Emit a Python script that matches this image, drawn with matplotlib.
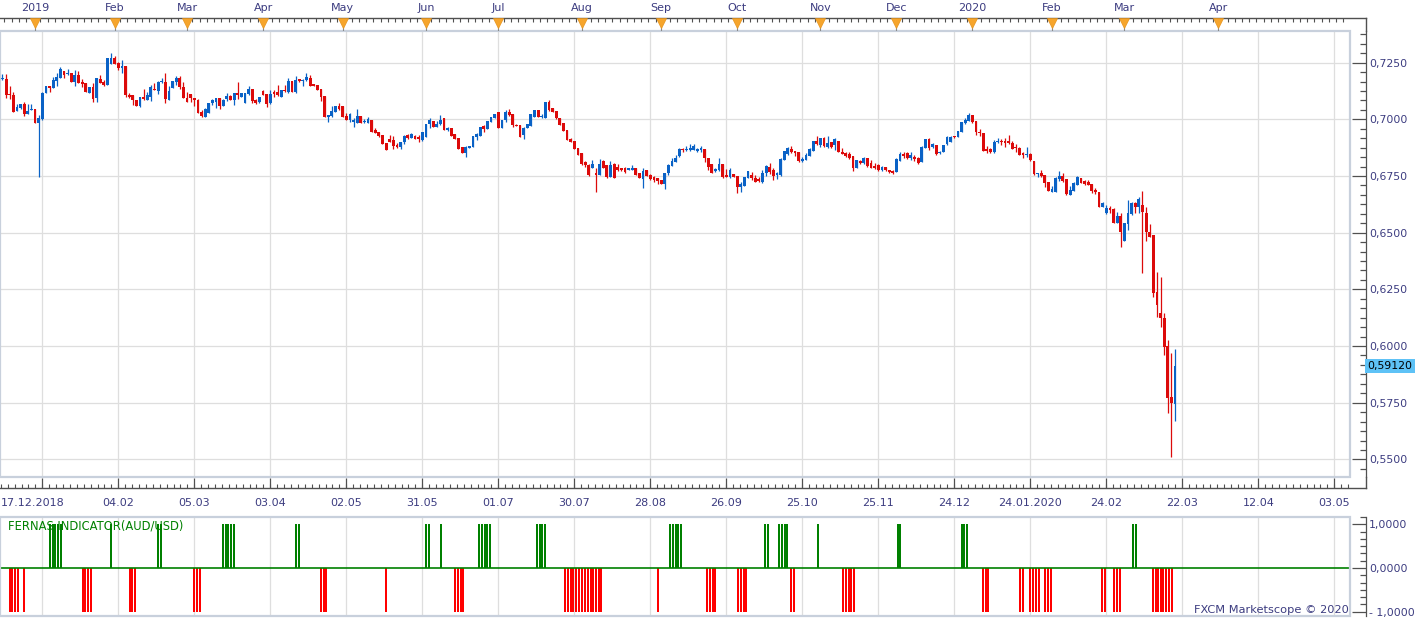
import matplotlib
matplotlib.use("Agg")
import numpy as np
import matplotlib.pyplot as plt
from matplotlib.patches import Rectangle
from matplotlib.ticker import MultipleLocator, FixedLocator, FuncFormatter
from matplotlib.transforms import blended_transform_factory

# ---------------- data ----------------
# AUD/USD daily candles, one per trading day, oldest first
opens = [
    .7177, .7178, .7110, .7108, .7038, .7052, .7066, .7024, .7043, .7046,
    .6985, .7002, .7115, .7147, .7140, .7171, .7184, .7213, .7200, .7205,
    .7166, .7196, .7166, .7159, .7118, .7143, .7093, .7178, .7166, .7152,
    .7246, .7272, .7247, .7225, .7237, .7108, .7105, .7085, .7059, .7100,
    .7085, .7100, .7134, .7125, .7163, .7165, .7085, .7137, .7166, .7181,
    .7141, .7093, .7110, .7096, .7085, .7032, .7012, .7029, .7070, .7076,
    .7095, .7059, .7088, .7104, .7085, .7118, .7100, .7073, .7112, .7134,
    .7085, .7075, .7126, .7112, .7070, .7119, .7122, .7100, .7129, .7122,
    .7170, .7122, .7176, .7170, .7173, .7184, .7154, .7151, .7134, .7104,
    .7012, .7015, .7034, .7059, .7059, .7015, .6997, .6989, .6982, .7015,
    .6989, .6985, .6995, .6953, .6945, .6931, .6894, .6913, .6909, .6887,
    .6880, .6899, .6931, .6916, .6928, .6924, .6909, .6924, .6978, .6993,
    .6966, .6978, .7007, .6953, .6963, .6934, .6918, .6877, .6853, .6875,
    .6878, .6924, .6926, .6969, .6957, .6987, .7004, .7034, .6960, .6997,
    .7034, .7023, .6975, .6975, .6931, .6960, .6972, .7012, .7041, .7012,
    .7007, .7078, .7051, .7037, .7007, .6982, .6953, .6913, .6904, .6875,
    .6850, .6810, .6799, .6784, .6762, .6755, .6816, .6799, .6747, .6802,
    .6791, .6784, .6787, .6777, .6777, .6784, .6762, .6737, .6777, .6755,
    .6747, .6740, .6732, .6713, .6762, .6796, .6813, .6838, .6868, .6863,
    .6863, .6865, .6860, .6865, .6869, .6828, .6802, .6772, .6777, .6802,
    .6755, .6747, .6757, .6752, .6703, .6707, .6740, .6755, .6740, .6737,
    .6725, .6762, .6791, .6777, .6755, .6755, .6820, .6846, .6869, .6860,
    .6854, .6818, .6821, .6840, .6860, .6906, .6887, .6916, .6879, .6898,
    .6887, .6904, .6857, .6853, .6846, .6840, .6787, .6816, .6806, .6831,
    .6806, .6794, .6799, .6777, .6788, .6777, .6772, .6769, .6816, .6846,
    .6850, .6828, .6835, .6828, .6810, .6872, .6913, .6879, .6887, .6850,
    .6854, .6890, .6901, .6923, .6920, .6945, .6985, .6994, .7019, .6993,
    .6945, .6938, .6868, .6869, .6857, .6900, .6906, .6906, .6906, .6897,
    .6879, .6872, .6850, .6841, .6847, .6816, .6757, .6765, .6754, .6725,
    .6681, .6681, .6735, .6750, .6735, .6666, .6685, .6710, .6740, .6728,
    .6725, .6715, .6688, .6681, .6612, .6585, .6607, .6603, .6544, .6574,
    .6465, .6537, .6581, .6632, .6615, .6622, .6588, .6505, .6490, .6240,
    .6144, .6122, .6000, .5777, .5745,
]
highs = [
    .7199, .7199, .7149, .7119, .7066, .7069, .7077, .7068, .7066, .7046,
    .7019, .7119, .7147, .7147, .7188, .7203, .7232, .7213, .7222, .7205,
    .7216, .7213, .7177, .7159, .7143, .7162, .7182, .7196, .7175, .7269,
    .7293, .7277, .7254, .7263, .7237, .7115, .7105, .7085, .7100, .7134,
    .7122, .7152, .7162, .7169, .7184, .7203, .7149, .7169, .7191, .7193,
    .7163, .7119, .7110, .7096, .7090, .7041, .7049, .7073, .7088, .7095,
    .7095, .7088, .7115, .7107, .7118, .7164, .7116, .7118, .7147, .7134,
    .7088, .7100, .7129, .7112, .7129, .7129, .7151, .7129, .7151, .7181,
    .7170, .7192, .7176, .7178, .7206, .7195, .7154, .7151, .7134, .7104,
    .7019, .7059, .7059, .7070, .7059, .7026, .7026, .7004, .7045, .7015,
    .7000, .7012, .6995, .6960, .6945, .6931, .6894, .6931, .6928, .6894,
    .6899, .6931, .6934, .6938, .6931, .6931, .6946, .6979, .7004, .6993,
    .6994, .7019, .7007, .6968, .6963, .6934, .6918, .6877, .6882, .6884,
    .6928, .6938, .6968, .6975, .6993, .7012, .7023, .7034, .6997, .7041,
    .7045, .7023, .6978, .6975, .6968, .6978, .7022, .7041, .7041, .7022,
    .7078, .7084, .7051, .7037, .7007, .6982, .6953, .6916, .6904, .6875,
    .6850, .6816, .6802, .6820, .6784, .6823, .6820, .6799, .6816, .6806,
    .6802, .6787, .6791, .6784, .6799, .6784, .6762, .6784, .6777, .6760,
    .6752, .6743, .6732, .6762, .6802, .6831, .6843, .6872, .6872, .6884,
    .6891, .6891, .6872, .6884, .6869, .6831, .6802, .6784, .6828, .6803,
    .6781, .6784, .6757, .6752, .6725, .6747, .6772, .6769, .6755, .6747,
    .6777, .6799, .6806, .6784, .6766, .6828, .6860, .6879, .6884, .6860,
    .6854, .6835, .6850, .6872, .6906, .6926, .6919, .6920, .6926, .6898,
    .6916, .6904, .6872, .6857, .6857, .6840, .6821, .6821, .6835, .6831,
    .6821, .6806, .6802, .6796, .6791, .6777, .6777, .6828, .6854, .6854,
    .6854, .6854, .6843, .6835, .6884, .6913, .6916, .6894, .6887, .6860,
    .6887, .6928, .6928, .6928, .6948, .6987, .7004, .7028, .7019, .6993,
    .6956, .6938, .6882, .6872, .6909, .6916, .6912, .6916, .6931, .6906,
    .6891, .6876, .6857, .6876, .6850, .6816, .6762, .6777, .6754, .6725,
    .6706, .6744, .6773, .6765, .6735, .6707, .6725, .6751, .6740, .6732,
    .6732, .6715, .6696, .6681, .6637, .6622, .6618, .6607, .6593, .6585,
    .6541, .6644, .6637, .6637, .6659, .6685, .6612, .6538, .6490, .6328,
    .6303, .6147, .6027, .5968, .5986,
]
lows = [
    .7172, .7093, .7090, .7030, .7038, .7047, .7016, .7024, .7040, .6985,
    .6747, .6997, .7115, .7122, .7140, .7149, .7184, .7181, .7196, .7166,
    .7149, .7159, .7144, .7119, .7118, .7078, .7078, .7162, .7146, .7152,
    .7246, .7244, .7218, .7203, .7100, .7093, .7063, .7060, .7056, .7083,
    .7083, .7081, .7127, .7110, .7159, .7071, .7085, .7137, .7152, .7134,
    .7093, .7075, .7078, .7059, .7027, .7009, .7009, .7026, .7062, .7052,
    .7044, .7059, .7082, .7085, .7062, .7088, .7097, .7070, .7109, .7073,
    .7066, .7073, .7107, .7056, .7067, .7100, .7104, .7097, .7122, .7118,
    .7121, .7118, .7164, .7147, .7170, .7147, .7148, .7129, .7082, .7009,
    .6989, .7012, .7034, .7041, .7012, .6997, .6989, .6967, .6982, .6985,
    .6982, .6982, .6945, .6938, .6920, .6890, .6865, .6898, .6869, .6875,
    .6869, .6890, .6913, .6916, .6913, .6901, .6904, .6924, .6960, .6968,
    .6966, .6975, .6953, .6950, .6928, .6913, .6868, .6853, .6835, .6875,
    .6878, .6909, .6926, .6946, .6957, .6987, .7004, .6960, .6960, .6990,
    .7016, .6968, .6969, .6924, .6913, .6960, .6972, .7012, .7012, .7005,
    .7007, .7037, .7034, .7000, .6975, .6949, .6909, .6899, .6869, .6843,
    .6799, .6791, .6752, .6784, .6681, .6755, .6784, .6743, .6747, .6740,
    .6772, .6772, .6762, .6777, .6777, .6755, .6740, .6696, .6752, .6732,
    .6722, .6713, .6713, .6691, .6755, .6793, .6810, .6835, .6855, .6860,
    .6862, .6863, .6857, .6857, .6813, .6777, .6762, .6769, .6772, .6740,
    .6744, .6740, .6746, .6677, .6681, .6707, .6740, .6732, .6722, .6722,
    .6718, .6752, .6757, .6732, .6737, .6752, .6820, .6843, .6850, .6838,
    .6813, .6813, .6821, .6838, .6860, .6887, .6879, .6879, .6875, .6872,
    .6865, .6854, .6846, .6835, .6825, .6774, .6784, .6803, .6802, .6791,
    .6784, .6781, .6774, .6774, .6774, .6762, .6757, .6769, .6816, .6831,
    .6825, .6821, .6816, .6803, .6810, .6872, .6865, .6872, .6843, .6846,
    .6854, .6887, .6898, .6916, .6920, .6945, .6981, .6993, .6982, .6931,
    .6926, .6862, .6850, .6850, .6853, .6894, .6887, .6879, .6891, .6868,
    .6857, .6843, .6828, .6832, .6818, .6754, .6744, .6744, .6703, .6684,
    .6681, .6681, .6729, .6725, .6666, .6666, .6685, .6710, .6718, .6710,
    .6710, .6674, .6671, .6615, .6612, .6582, .6588, .6544, .6541, .6438,
    .6465, .6512, .6578, .6588, .6588, .6321, .6465, .6479, .6218, .6130,
    .6086, .5961, .5703, .5512, .5671,
]
closes = [
    .7181, .7105, .7105, .7030, .7055, .7066, .7024, .7037, .7046, .6985,
    .7005, .7115, .7147, .7140, .7174, .7187, .7222, .7196, .7205, .7166,
    .7196, .7159, .7157, .7119, .7143, .7090, .7182, .7162, .7153, .7269,
    .7272, .7246, .7225, .7237, .7105, .7100, .7083, .7060, .7097, .7088,
    .7105, .7143, .7127, .7166, .7166, .7088, .7125, .7169, .7184, .7141,
    .7093, .7075, .7096, .7085, .7027, .7015, .7045, .7073, .7085, .7095,
    .7059, .7085, .7104, .7085, .7118, .7109, .7116, .7118, .7134, .7079,
    .7070, .7100, .7109, .7067, .7112, .7110, .7109, .7129, .7125, .7170,
    .7121, .7173, .7170, .7173, .7188, .7147, .7148, .7129, .7100, .7009,
    .7019, .7038, .7059, .7045, .7012, .6997, .7023, .6997, .7015, .6985,
    .6994, .7001, .6945, .6941, .6926, .6890, .6865, .6901, .6884, .6878,
    .6899, .6928, .6916, .6934, .6913, .6913, .6943, .6979, .6997, .6968,
    .6978, .6997, .6953, .6963, .6928, .6913, .6868, .6853, .6880, .6884,
    .6928, .6934, .6968, .6957, .6993, .7012, .7023, .6960, .6997, .7034,
    .7019, .6975, .6972, .6924, .6963, .6978, .7022, .7041, .7012, .7016,
    .7078, .7041, .7034, .7004, .6975, .6949, .6909, .6901, .6869, .6843,
    .6801, .6799, .6755, .6802, .6755, .6802, .6787, .6747, .6799, .6743,
    .6775, .6775, .6766, .6784, .6787, .6755, .6740, .6772, .6752, .6735,
    .6732, .6728, .6716, .6762, .6799, .6816, .6831, .6868, .6863, .6869,
    .6872, .6884, .6868, .6872, .6828, .6791, .6762, .6779, .6802, .6747,
    .6747, .6777, .6746, .6703, .6713, .6747, .6772, .6740, .6725, .6728,
    .6762, .6794, .6769, .6752, .6762, .6825, .6860, .6875, .6854, .6850,
    .6816, .6824, .6843, .6869, .6906, .6890, .6916, .6884, .6894, .6879,
    .6912, .6854, .6847, .6840, .6828, .6787, .6821, .6806, .6831, .6796,
    .6787, .6784, .6777, .6791, .6777, .6766, .6762, .6824, .6847, .6840,
    .6828, .6843, .6825, .6806, .6879, .6913, .6872, .6890, .6846, .6857,
    .6887, .6923, .6923, .6920, .6948, .6987, .6998, .7019, .6987, .6945,
    .6938, .6862, .6862, .6857, .6901, .6906, .6901, .6897, .6894, .6869,
    .6872, .6843, .6843, .6847, .6821, .6759, .6762, .6751, .6721, .6684,
    .6693, .6740, .6750, .6728, .6671, .6688, .6718, .6744, .6718, .6713,
    .6710, .6684, .6681, .6615, .6632, .6607, .6600, .6544, .6574, .6505,
    .6541, .6585, .6629, .6615, .6649, .6593, .6505, .6482, .6233, .6181,
    .6122, .5997, .5769, .5747, .5912,
]
last_price = 0.59120

# month markers on the top scale (position in trading days from first candle)
month_names = ["2019", "Feb", "Mar", "Apr", "May", "Jun", "Jul", "Aug",
               "Sep", "Oct", "Nov", "Dec", "2020", "Feb", "Mar", "Apr"]
month_pos = [9, 31, 51, 72, 94, 117, 137, 160, 182, 203, 226, 247, 268, 290, 310, 336]

# date scale at the bottom of the price panel
first_date = "17.12.2018"
date_labels = ["04.02", "05.03", "03.04", "02.05", "31.05", "01.07", "30.07", "28.08",
               "26.09", "25.10", "25.11", "24.12", "24.01.2020", "24.02", "22.03",
               "12.04", "03.05"]
date_pos = [32, 53, 74, 95, 116, 137, 158, 179, 200, 221, 242, 263, 284, 305, 326, 347, 368]
grid_pos = [11] + date_pos

price_ticks = [0.550, 0.575, 0.600, 0.625, 0.650, 0.675, 0.700, 0.725]

# FERNAS indicator signals (+1 buy / -1 sell), positions on the same time scale
buy_pos = [13.2, 13.9, 14.6, 15.4, 16.1, 30.1, 43.0, 43.9,
           60.9, 61.7, 62.4, 63.1, 64.0, 81.2, 81.9, 117.1, 117.9, 121.2,
           131.7, 132.4, 133.2, 133.9, 134.6, 147.7, 148.4, 149.2, 150.0,
           184.5, 185.2, 186.0, 186.7, 187.5, 210.7, 211.4,
           214.6, 215.4, 216.1, 216.9, 225.3, 247.4, 248.1,
           265.1, 265.8, 266.6, 312.4, 313.1]
sell_pos = [2.0, 2.7, 3.5, 4.2, 6.0, 22.2, 22.9, 23.6, 24.4, 35.1, 35.8, 36.6,
            53.0, 53.7, 54.5, 88.0, 88.8, 89.5, 106.0, 125.1, 125.9, 126.6, 127.3,
            155.5, 156.2, 157.0, 157.7, 158.5, 159.2, 160.0,
            161.0, 161.7, 162.5, 163.2, 164.0, 164.7, 165.5,
            181.0, 194.7, 195.4, 196.2, 196.9, 203.3, 204.0, 204.8, 205.5,
            217.9, 218.6, 232.3, 233.1, 233.8, 234.5, 235.3,
            270.9, 271.7, 272.4, 281.2, 282.0, 283.9, 284.7, 285.5, 286.4,
            288.1, 288.9, 289.7, 303.8, 304.6, 307.1, 307.9, 308.8,
            317.9, 318.6, 319.4, 320.1, 320.8, 321.6, 322.3, 323.1]

# ---------------- layout (pixels of the 1423x619 canvas) ----------------
W, H = 1423, 619
PLOT_R = 1350.0       # right edge of the plotting panes
AXIS_X = 1365.7       # where the value scale line sits
XLIM = (-0.69, 372.34)
TXT = "#3c3c80"
AX_COL = "#505050"
GRID = "#dedede"
FRAME = "#c8d0dc"


def rect(x0, y0, x1, y1):
    return [x0 / W, 1 - y1 / H, (x1 - x0) / W, (y1 - y0) / H]


fig = plt.figure(figsize=(W / 100, H / 100), dpi=100)
fig.patch.set_facecolor("white")

# ---------------- price pane ----------------
ax = fig.add_axes(rect(0, 31, PLOT_R, 477))
ax.set_xlim(*XLIM)
ax.set_ylim(0.54225, 0.73894)

for g in grid_pos:
    ax.axvline(g, color=GRID, lw=0.9, zorder=0)
for p in price_ticks:
    ax.axhline(p, color=GRID, lw=0.9, zorder=0)

o = np.array(opens)
h = np.array(highs)
l = np.array(lows)
c = np.array(closes)
idx = np.arange(len(c))
up = c >= o
cols = np.where(up, "#0a62c6", "#dc0a0a")
ax.vlines(idx, l, h, colors=cols, lw=0.9, zorder=2)
body = np.maximum(np.abs(c - o), 0.00045)
ax.bar(idx, body, bottom=np.minimum(o, c), width=0.78, color=cols, lw=0, zorder=3)

ax.add_patch(Rectangle((0, 0), 1, 1, transform=ax.transAxes, fill=False,
                       ec=FRAME, lw=1.6, clip_on=False, zorder=5))
for s in ["top", "left", "bottom"]:
    ax.spines[s].set_visible(False)
ax.spines["right"].set_position(("outward", (AXIS_X - PLOT_R) * 0.72))
ax.spines["right"].set_color(AX_COL)
ax.spines["right"].set_linewidth(0.9)
ax.yaxis.tick_right()
ax.yaxis.set_major_locator(FixedLocator(price_ticks))
ax.yaxis.set_minor_locator(MultipleLocator(0.025 / 6))
ax.yaxis.set_major_formatter(FuncFormatter(lambda v, p: f"{v:.4f}".replace(".", ",")))
ax.tick_params(axis="y", which="major", direction="in", length=10, width=0.9,
               color=AX_COL, labelsize=7.8, labelcolor=TXT, pad=2.5)
ax.tick_params(axis="y", which="minor", direction="in", length=4, width=0.9, color=AX_COL)
ax.tick_params(axis="x", which="both", bottom=False, labelbottom=False)

# current price tag
bt = blended_transform_factory(ax.transAxes, ax.transData)
ax.text((AXIS_X + 1.5) / PLOT_R, last_price, f"{last_price:.5f}".replace(".", ","),
        transform=bt, ha="left", va="center", fontsize=7.8, color="black", zorder=6,
        bbox=dict(boxstyle="square,pad=0.22", fc="#5ec2f6", ec="none"))

# ---------------- top month scale ----------------
axt = fig.add_axes(rect(0, 0, PLOT_R, 31))
axt.set_xlim(*XLIM)
axt.set_ylim(31, 0)
axt.axis("off")
tt = blended_transform_factory(axt.transAxes, axt.transData)
axt.plot([0, AXIS_X / PLOT_R], [18.3, 18.3], transform=tt, color=AX_COL, lw=1, clip_on=False)
axt.plot([AXIS_X / PLOT_R] * 2, [18.3, 31], transform=tt, color=AX_COL, lw=1, clip_on=False)
axt.vlines(np.arange(0.5, 372, 2), 18.3, 22.3, color=AX_COL, lw=0.8)
axt.vlines(month_pos, 26, 31, color="#8a8a8a", lw=0.8)
axt.plot(month_pos, [23.0] * len(month_pos), "v", ms=7.5, color="#f6a52c",
         mec="#e8941b", mew=0.5, clip_on=False)
for p, name in zip(month_pos, month_names):
    axt.text(p, 8, name, ha="center", va="center", fontsize=8, color=TXT)

# ---------------- date scale ----------------
axd = fig.add_axes(rect(0, 477, PLOT_R, 517))
axd.set_xlim(*XLIM)
axd.set_ylim(517, 477)
axd.axis("off")
dt = blended_transform_factory(axd.transAxes, axd.transData)
axd.plot([0, AXIS_X / PLOT_R], [487.5, 487.5], transform=dt, color=AX_COL, lw=1, clip_on=False)
axd.plot([AXIS_X / PLOT_R] * 2, [477, 487.5], transform=dt, color=AX_COL, lw=1, clip_on=False)
axd.vlines(grid_pos, 477.5, 487.5, color=AX_COL, lw=0.9)
axd.vlines(np.arange(grid_pos[0] - 21, 372, 21 / 11), 483.5, 487.5, color=AX_COL, lw=0.8)
axd.text(1 / PLOT_R, 503, first_date, transform=dt, ha="left", va="center", fontsize=8, color=TXT)
for p, lab in zip(date_pos, date_labels):
    axd.text(p, 503, lab, ha="center", va="center", fontsize=8, color=TXT)

# ---------------- indicator pane ----------------
axi = fig.add_axes(rect(0, 517, PLOT_R, 616))
axi.set_xlim(*XLIM)
axi.set_ylim(-1.098, 1.167)
for g in grid_pos:
    axi.axvline(g, color=GRID, lw=0.9, zorder=0)
axi.bar(buy_pos, [1] * len(buy_pos), width=0.55, color="#008000", lw=0, zorder=2)
axi.bar(sell_pos, [-1] * len(sell_pos), width=0.55, color="#ff0000", lw=0, zorder=2)
axi.axhline(0, color="#008000", lw=1.2, zorder=3)
axi.add_patch(Rectangle((0, 0), 1, 1, transform=axi.transAxes, fill=False,
                        ec=FRAME, lw=1.6, clip_on=False, zorder=5))
for s in ["top", "left", "bottom"]:
    axi.spines[s].set_visible(False)
axi.spines["right"].set_position(("outward", (AXIS_X - PLOT_R) * 0.72))
axi.spines["right"].set_color(AX_COL)
axi.spines["right"].set_linewidth(0.9)
axi.yaxis.tick_right()
axi.yaxis.set_major_locator(FixedLocator([-1, 0, 1]))
axi.yaxis.set_minor_locator(MultipleLocator(1 / 6))
axi.yaxis.set_major_formatter(FuncFormatter(
    lambda v, p: ("- " if v < 0 else "") + f"{abs(v):.4f}".replace(".", ",")))
axi.tick_params(axis="y", which="major", direction="in", length=10, width=0.9,
                color=AX_COL, labelsize=7.8, labelcolor=TXT, pad=2.5)
axi.tick_params(axis="y", which="minor", direction="in", length=4, width=0.9, color=AX_COL)
axi.tick_params(axis="x", which="both", bottom=False, labelbottom=False)

axi.text(8 / PLOT_R, 0.97, "FERNAS INDICATOR(AUD/USD)",
         transform=blended_transform_factory(axi.transAxes, axi.transData),
         ha="left", va="center", fontsize=8.3, color="#008000", zorder=6)
axi.text(1.0 - 1 / PLOT_R, -0.97, "FXCM Marketscope \u00a9 2020",
         transform=blended_transform_factory(axi.transAxes, axi.transData),
         ha="right", va="center", fontsize=8.2, color=TXT, zorder=6)

fig.savefig("out.png", dpi=100, facecolor="white")
